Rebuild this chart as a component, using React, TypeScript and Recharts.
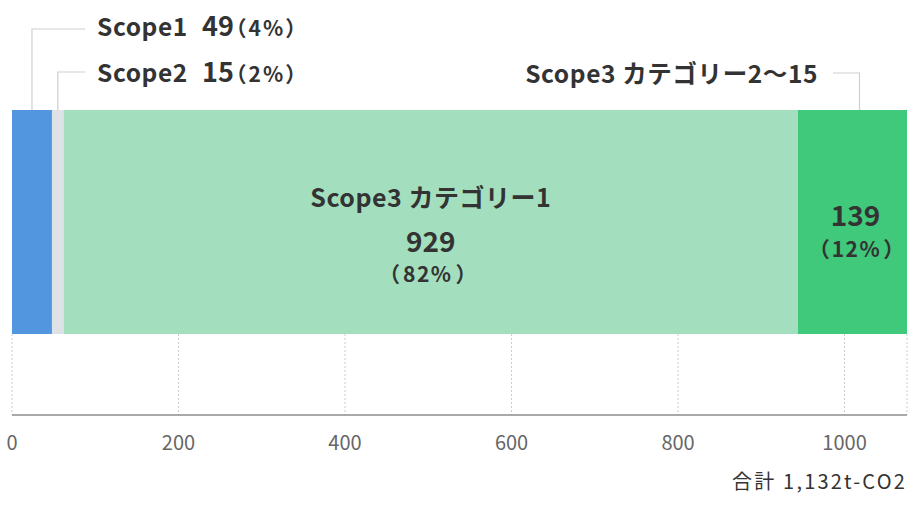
import React from 'react';
import { BarChart, Bar, XAxis, YAxis, CartesianGrid, LabelList } from 'recharts';

// Series (drawn bar lengths, in t-CO2)
const seriesKeys = ['scope1', 'scope2', 'cat1', 'cat2to15'];
const seriesNames = ['Scope1', 'Scope2', 'Scope3 カテゴリー1', 'Scope3 カテゴリー2〜15'];
const barLengths = [48, 14, 882, 131];
// Values printed in the labels
const labelValues = ['49', '15', '929', '139'];
const labelPercents = ['4%', '2%', '82%', '12%'];
const colors = ['#5196df', '#dde2e7', '#a3dfbe', '#40c87b'];
const xTicks = [0, 200, 400, 600, 800, 1000];
const totalLabel = '合計 1,132t-CO2';
const categories = ['total'];

const FONT = "'Noto Sans CJK JP', 'Noto Sans', sans-serif";
const TEXT = '#333333';
const LEADER = '#cfcfcf';
const PALT = { fontFeatureSettings: '"palt"' } as React.CSSProperties;

const data = categories.map((name) => {
  const row: Record<string, string | number> = { name };
  seriesKeys.forEach((k, i) => {
    row[k] = barLengths[i];
  });
  return row;
});

const SideLabel = (i: number, lineY: number, baseY: number) => (props: any) => {
  const { x, y, width } = props;
  const cx = Number(x) + Number(width) / 2;
  const top = Number(y);
  return (
    <g>
      <polyline
        points={`${cx},${top} ${cx},${lineY} 85,${lineY}`}
        fill="none"
        stroke={LEADER}
        strokeWidth={1.2}
      />
      <text x={97} y={baseY} fill={TEXT} fontFamily={FONT} fontWeight={700}>
        <tspan fontSize={24.5} letterSpacing={0.6}>{seriesNames[i]}</tspan>
        <tspan x={202} fontSize={27}>{labelValues[i]}</tspan>
      </text>
      <text x={235} y={baseY} fill={TEXT} fontFamily={FONT} fontWeight={700} fontSize={21} style={PALT}>
        <tspan>（</tspan>
        <tspan dx={3} letterSpacing={2}>{labelPercents[i]}</tspan>
        <tspan dx={1}>）</tspan>
      </text>
    </g>
  );
};

const CenterLabel = (props: any) => {
  const { x, width } = props;
  const cx = Number(x) + Number(width) / 2;
  return (
    <g fill={TEXT} fontFamily={FONT} fontWeight={700} textAnchor="middle">
      <text x={cx} y={207} fontSize={25} letterSpacing={0.5}>{seriesNames[2]}</text>
      <text x={cx} y={252} fontSize={28}>{labelValues[2]}</text>
      <text x={cx - 3} y={282} fontSize={21}>
        <tspan>（</tspan>
        <tspan dx={3} letterSpacing={1.5}>{labelPercents[2]}</tspan>
        <tspan dx={3}>）</tspan>
      </text>
    </g>
  );
};

const RightLabel = (props: any) => {
  const { x, y, width } = props;
  const cx = Number(x) + Number(width) / 2;
  const top = Number(y);
  const lx = cx + 7;
  return (
    <g>
      <polyline
        points={`${lx},${top} ${lx},73 833,73`}
        fill="none"
        stroke={LEADER}
        strokeWidth={1.2}
      />
      <g fill={TEXT} fontFamily={FONT} fontWeight={700}>
        <text x={818} y={83} fontSize={24.5} letterSpacing={0.6} textAnchor="end">{seriesNames[3]}</text>
        <text x={cx + 3} y={226} fontSize={28} textAnchor="middle">{labelValues[3]}</text>
        <text x={cx + 4} y={257} fontSize={21} textAnchor="middle">
          <tspan>（</tspan>
          <tspan dx={2} letterSpacing={1.5}>{labelPercents[3]}</tspan>
          <tspan dx={2}>）</tspan>
        </text>
      </g>
    </g>
  );
};

const labelRenderers = [SideLabel(0, 29, 36), SideLabel(1, 72, 82), CenterLabel, RightLabel];

export default function App() {
  return (
    <div style={{ position: 'absolute', left: 0, top: 0, width: 920, height: 505, background: '#fff' }}>
      <BarChart
        width={920}
        height={505}
        data={data}
        layout="vertical"
        margin={{ top: 28, right: 13, bottom: 16, left: 12 }}
        barSize={224}
      >
        <CartesianGrid
          horizontal={false}
          vertical
          stroke="#cccccc"
          strokeDasharray="2 2"
          y={334}
          height={81}
        />
        <XAxis
          type="number"
          domain={[0, 'dataMax']}
          ticks={xTicks}
          interval={0}
          height={74}
          tickLine={false}
          axisLine={{ stroke: '#8c8c8c', strokeWidth: 1.5 }}
          tick={{ fill: '#666666', fontSize: 20, fontFamily: FONT }}
          tickMargin={15}
          label={{
            value: totalLabel,
            position: 'insideBottomRight',
            offset: 0,
            fill: TEXT,
            fontSize: 20,
            letterSpacing: 2.2,
            fontFamily: FONT,
          }}
        />
        <YAxis
          type="category"
          dataKey="name"
          width={0}
          tick={false}
          tickLine={false}
          axisLine={{ stroke: '#8c8c8c', strokeWidth: 1.5 }}
        />
        {seriesKeys.map((k, i) => (
          <Bar key={k} dataKey={k} stackId="a" fill={colors[i]} isAnimationActive={false}>
            <LabelList dataKey={k} content={labelRenderers[i]} />
          </Bar>
        ))}
      </BarChart>
    </div>
  );
}
